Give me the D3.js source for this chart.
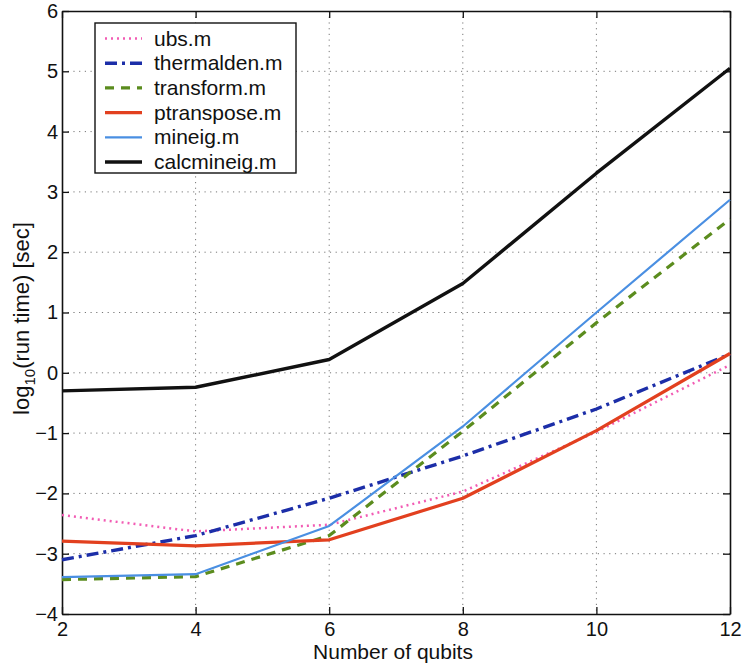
<!DOCTYPE html>
<html>
<head>
<meta charset="utf-8">
<script src="https://cdn.jsdelivr.net/npm/d3@7"></script>
<style>
  body { margin: 0; background: #fff; }
  svg text { font-family: "Liberation Sans", Arial, Helvetica, sans-serif; fill: #111; }
</style>
</head>
<body>
<svg id="chart" width="746" height="668"></svg>
<script>
// Number of qubits on the x axis
const qubits = [2, 4, 6, 8, 10, 12];

// log10 of run time (seconds) for each routine
const ubs        = [-2.36, -2.63, -2.52, -1.97, -0.98, 0.13];
const thermalden = [-3.10, -2.70, -2.08, -1.38, -0.60, 0.31];
const transform  = [-3.43, -3.38, -2.70, -0.97, 0.83, 2.55];
const ptranspose = [-2.79, -2.87, -2.77, -2.08, -0.96, 0.32];
const mineig     = [-3.39, -3.34, -2.54, -0.89, 1.00, 2.87];
const calcmineig = [-0.30, -0.24, 0.22, 1.48, 3.31, 5.05];

const xTicks = [2, 4, 6, 8, 10, 12];
const yTicks = [-4, -3, -2, -1, 0, 1, 2, 3, 4, 5, 6];

const seriesNames = ["ubs.m", "thermalden.m", "transform.m", "ptranspose.m", "mineig.m", "calcmineig.m"];
const seriesValues = [ubs, thermalden, transform, ptranspose, mineig, calcmineig];
const seriesStyle = [
  { color: "#f25cb4", width: 2.5, dash: "2,4" },
  { color: "#1c2ea8", width: 3.4, dash: "12,5,3,5" },
  { color: "#5b8c1e", width: 3.2, dash: "9,7" },
  { color: "#e2401f", width: 3.2, dash: null },
  { color: "#4a8fe2", width: 2.2, dash: null },
  { color: "#111111", width: 3.4, dash: null }
];

const svg = d3.select("#chart");
const plotLeft = 62, plotRight = 730, plotTop = 11, plotBottom = 614;

const x = d3.scaleLinear().domain([2, 12]).range([plotLeft, plotRight]);
const y = d3.scaleLinear().domain([-4, 6]).range([plotBottom, plotTop]);

// dotted grid
const grid = svg.append("g");
grid.selectAll("line.gx").data(xTicks.slice(1, -1)).join("line").attr("class", "gx")
  .attr("x1", d => x(d)).attr("x2", d => x(d))
  .attr("y1", plotTop).attr("y2", plotBottom)
  .attr("stroke", "#777").attr("stroke-width", 1).attr("stroke-dasharray", "1.2,4.5");
grid.selectAll("line.gy").data(yTicks.slice(1, -1)).join("line").attr("class", "gy")
  .attr("x1", plotLeft).attr("x2", plotRight)
  .attr("y1", d => y(d)).attr("y2", d => y(d))
  .attr("stroke", "#777").attr("stroke-width", 1).attr("stroke-dasharray", "1.2,4.5");

// axes with inward ticks on all four sides
const tickLen = 7;
const axB = svg.append("g").attr("transform", `translate(0,${plotBottom})`)
  .call(d3.axisBottom(x).tickValues(xTicks).tickSizeInner(-tickLen).tickSizeOuter(0).tickPadding(8));
const axT = svg.append("g").attr("transform", `translate(0,${plotTop})`)
  .call(d3.axisTop(x).tickValues(xTicks).tickSizeInner(-tickLen).tickSizeOuter(0).tickFormat(""));
const axL = svg.append("g").attr("transform", `translate(${plotLeft},0)`)
  .call(d3.axisLeft(y).tickValues(yTicks).tickSizeInner(-tickLen).tickSizeOuter(0).tickPadding(4)
    .tickFormat(d => d < 0 ? "\u2212" + Math.abs(d) : d));
const axR = svg.append("g").attr("transform", `translate(${plotRight},0)`)
  .call(d3.axisRight(y).tickValues(yTicks).tickSizeInner(-tickLen).tickSizeOuter(0).tickFormat(""));

[axB, axT, axL, axR].forEach(a => {
  a.select(".domain").attr("stroke", "#111").attr("stroke-width", 1.6);
  a.selectAll(".tick line").attr("stroke", "#111").attr("stroke-width", 1.3);
  a.selectAll("text").attr("font-size", 20).attr("fill", "#111")
    .attr("font-family", "Liberation Sans, Arial, sans-serif");
});

// series lines
const line = d3.line().x((d, i) => x(qubits[i])).y(d => y(d));
svg.append("g").selectAll("path").data(seriesValues).join("path")
  .attr("d", d => line(d))
  .attr("fill", "none")
  .attr("stroke", (d, i) => seriesStyle[i].color)
  .attr("stroke-width", (d, i) => seriesStyle[i].width)
  .attr("stroke-dasharray", (d, i) => seriesStyle[i].dash)
  .attr("stroke-linejoin", "round");

// legend
const lg = svg.append("g");
lg.append("rect").attr("x", 95).attr("y", 23).attr("width", 201).attr("height", 150)
  .attr("fill", "#fff").attr("stroke", "#111").attr("stroke-width", 1.4);
const rowY = i => 38.5 + i * 24.7;
lg.selectAll("line").data(seriesNames).join("line")
  .attr("x1", 105).attr("x2", 142)
  .attr("y1", (d, i) => rowY(i)).attr("y2", (d, i) => rowY(i))
  .attr("stroke", (d, i) => seriesStyle[i].color)
  .attr("stroke-width", (d, i) => seriesStyle[i].width)
  .attr("stroke-dasharray", (d, i) => seriesStyle[i].dash);
lg.selectAll("text").data(seriesNames).join("text")
  .attr("x", 154).attr("y", (d, i) => rowY(i) + 7)
  .attr("font-size", 21)
  .text(d => d);

// axis titles
svg.append("text").attr("x", 393).attr("y", 659)
  .attr("text-anchor", "middle").attr("font-size", 21)
  .text("Number of qubits");

const yl = svg.append("text")
  .attr("transform", `translate(29,${(plotTop + plotBottom) / 2 + 6}) rotate(-90)`)
  .attr("text-anchor", "middle").attr("font-size", 22);
yl.append("tspan").text("log");
yl.append("tspan").attr("font-size", 15).attr("dy", 6).text("10");
yl.append("tspan").attr("dy", -6).text("(run time) [sec]");
</script>
</body>
</html>
